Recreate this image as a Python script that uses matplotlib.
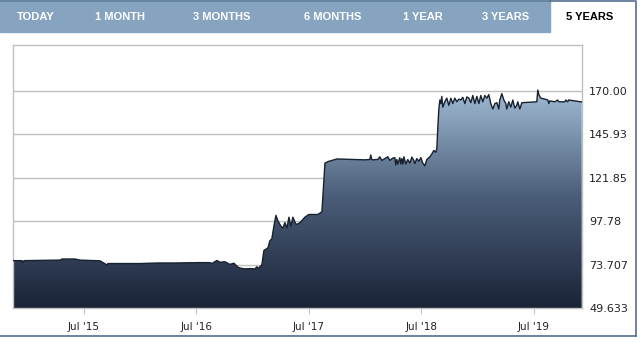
import numpy as np
import matplotlib
matplotlib.use("Agg")
import matplotlib.pyplot as plt
from matplotlib.colors import LinearSegmentedColormap
from matplotlib.patches import Rectangle

# price history (decimal year, price)
years = [2014.870, 2014.950, 2014.959, 2014.968, 2015.288, 2015.306, 2015.421, 2015.466,
         2015.643, 2015.688, 2015.706, 2015.714, 2015.999, 2016.159, 2016.310, 2016.532,
         2016.621, 2016.639, 2016.683, 2016.710, 2016.754, 2016.799, 2016.834, 2016.870,
         2016.888, 2016.932, 2016.977, 2017.021, 2017.039, 2017.048, 2017.083, 2017.101,
         2017.137, 2017.155, 2017.172, 2017.190, 2017.208, 2017.226, 2017.252, 2017.270,
         2017.288, 2017.306, 2017.324, 2017.341, 2017.359, 2017.386, 2017.412, 2017.430,
         2017.466, 2017.501, 2017.546, 2017.581, 2017.617, 2017.644, 2017.670, 2017.750,
         2017.910, 2017.999, 2018.043, 2018.052, 2018.061, 2018.114, 2018.132, 2018.150,
         2018.177, 2018.203, 2018.221, 2018.248, 2018.266, 2018.274, 2018.283, 2018.292,
         2018.310, 2018.319, 2018.328, 2018.337, 2018.346, 2018.363, 2018.381, 2018.399,
         2018.417, 2018.434, 2018.443, 2018.461, 2018.479, 2018.497, 2018.514, 2018.532,
         2018.550, 2018.577, 2018.594, 2018.612, 2018.630, 2018.639, 2018.648, 2018.657,
         2018.666, 2018.675, 2018.683, 2018.692, 2018.710, 2018.728, 2018.746, 2018.764,
         2018.781, 2018.799, 2018.817, 2018.835, 2018.853, 2018.870, 2018.888, 2018.906,
         2018.924, 2018.941, 2018.959, 2018.977, 2018.995, 2019.013, 2019.030, 2019.048,
         2019.066, 2019.084, 2019.101, 2019.119, 2019.137, 2019.155, 2019.173, 2019.190,
         2019.199, 2019.217, 2019.235, 2019.253, 2019.261, 2019.279, 2019.297, 2019.315,
         2019.332, 2019.350, 2019.359, 2019.377, 2019.395, 2019.528, 2019.537, 2019.546,
         2019.564, 2019.599, 2019.626, 2019.635, 2019.643, 2019.688, 2019.714, 2019.723,
         2019.777, 2019.786, 2019.803, 2019.812, 2019.928]
prices = [75.9, 75.9, 74.8, 75.9, 76.2, 76.8, 76.8, 76.2,
          75.8, 74.2, 73.4, 74.3, 74.3, 74.6, 74.6, 74.8,
          74.8, 74.3, 76.0, 75.0, 75.3, 73.8, 74.5, 72.3,
          71.8, 71.3, 71.5, 71.3, 72.5, 71.5, 73.5, 81.5,
          83.0, 87.0, 88.0, 95.0, 101.0, 98.0, 95.0, 94.0,
          97.0, 94.0, 100.0, 95.0, 100.0, 96.0, 96.5, 97.5,
          100.0, 101.5, 101.5, 101.5, 103.0, 130.0, 130.8, 132.3,
          132.0, 131.8, 132.0, 134.5, 131.8, 132.0, 133.5, 131.5,
          132.5, 133.5, 131.5, 132.8, 133.0, 129.0, 132.0, 129.5,
          133.0, 129.5, 132.5, 129.5, 133.5, 129.5, 132.0, 130.0,
          133.3, 131.5, 129.7, 132.5, 131.0, 133.0, 130.0, 128.5,
          132.0, 133.5, 135.0, 137.0, 136.0, 138.0, 150.0, 160.0,
          165.0, 163.0, 167.0, 161.0, 164.0, 166.0, 162.0, 166.0,
          163.0, 166.0, 164.0, 165.5, 165.0, 166.5, 163.0, 166.7,
          166.0, 163.5, 167.5, 163.0, 167.0, 163.0, 167.5, 164.0,
          167.5, 166.0, 168.0, 163.0, 160.0, 163.0, 163.5, 160.0,
          165.0, 168.5, 165.0, 163.0, 160.0, 164.0, 161.0, 165.0,
          160.5, 162.0, 164.0, 160.0, 163.5, 164.0, 170.5, 168.0,
          166.0, 165.5, 165.0, 163.0, 164.5, 164.0, 165.0, 164.0,
          164.0, 165.0, 164.0, 165.0, 163.9]

y_ticks = [49.633, 73.707, 97.78, 121.85, 145.93, 170.00]
y_labels = ["49.633", "73.707", "97.78", "121.85", "145.93", "170.00"]
x_ticks = [2015.5, 2016.5, 2017.5, 2018.5, 2019.5]
x_labels = ["Jul '15", "Jul '16", "Jul '17", "Jul '18", "Jul '19"]
tabs = ["TODAY", "1 MONTH", "3 MONTHS", "6 MONTHS", "1 YEAR", "3 YEARS", "5 YEARS"]
tab_x = [36, 120, 222, 333, 423, 506, 590]

W, H = 641, 342
fig = plt.figure(figsize=(W / 100, H / 100), dpi=100)
fig.patch.set_facecolor("white")

# header bar
bar = fig.add_axes([0, 0, 1, 1], zorder=0)
bar.set_xlim(0, W)
bar.set_ylim(H, 0)
bar.axis("off")
bar.add_patch(Rectangle((0, 0), 550, 32, color="#86a4bf"))
bar.plot([0, 550], [1, 1], color="#5f7f9e", lw=1.2)
bar.plot([550, 636, 636], [1, 1, 336], color="#4f6f8f", lw=1.2)
bar.plot([0, 636], [336, 336], color="#4f6f8f", lw=1.2)
for t, x in zip(tabs, tab_x):
    c = "black" if t == "5 YEARS" else "white"
    bar.text(x, 17, t, ha="center", va="center", fontsize=8, fontweight="bold",
             color=c, family=["Liberation Sans Narrow", "Liberation Sans", "DejaVu Sans"])

ax = fig.add_axes([13 / W, 1 - 308 / H, (582 - 13) / W, (308 - 45) / H], zorder=1)
ax.set_facecolor("none")
x0, x1 = 2014.87, 2019.93
y0, y1 = 49.633, 195.5
ax.set_xlim(x0, x1)
ax.set_ylim(y0, y1)

cmap = LinearSegmentedColormap.from_list("g", ["#1a2337", "#4a5d78", "#a2bcd5"])
grad = np.linspace(0, 1, 256).reshape(-1, 1)
img = ax.imshow(grad, cmap=cmap, aspect="auto", origin="lower",
                extent=[x0, x1, y0, 172], zorder=2)
poly = ax.fill_between(years, prices, y0, color="none", lw=0)
img.set_clip_path(poly.get_paths()[0], transform=ax.transData)
ax.plot(years, prices, color="#17212f", lw=1.0, zorder=3)

ax.set_yticks(y_ticks)
ax.set_yticklabels(y_labels)
ax.set_xticks(x_ticks)
ax.set_xticklabels(x_labels)
ax.yaxis.tick_right()
ax.tick_params(axis="y", length=0, pad=5, labelsize=8, labelcolor="#222222")
ax.tick_params(axis="x", length=4, color="#b8c8d8", pad=6, labelsize=7.5, labelcolor="#222222")
ax.grid(axis="y", color="#c0c0c0", lw=1)
ax.set_axisbelow(True)
for s in ax.spines.values():
    s.set_color("#c0c0c0")
    s.set_linewidth(1)

fig.savefig("out.png", dpi=100)
